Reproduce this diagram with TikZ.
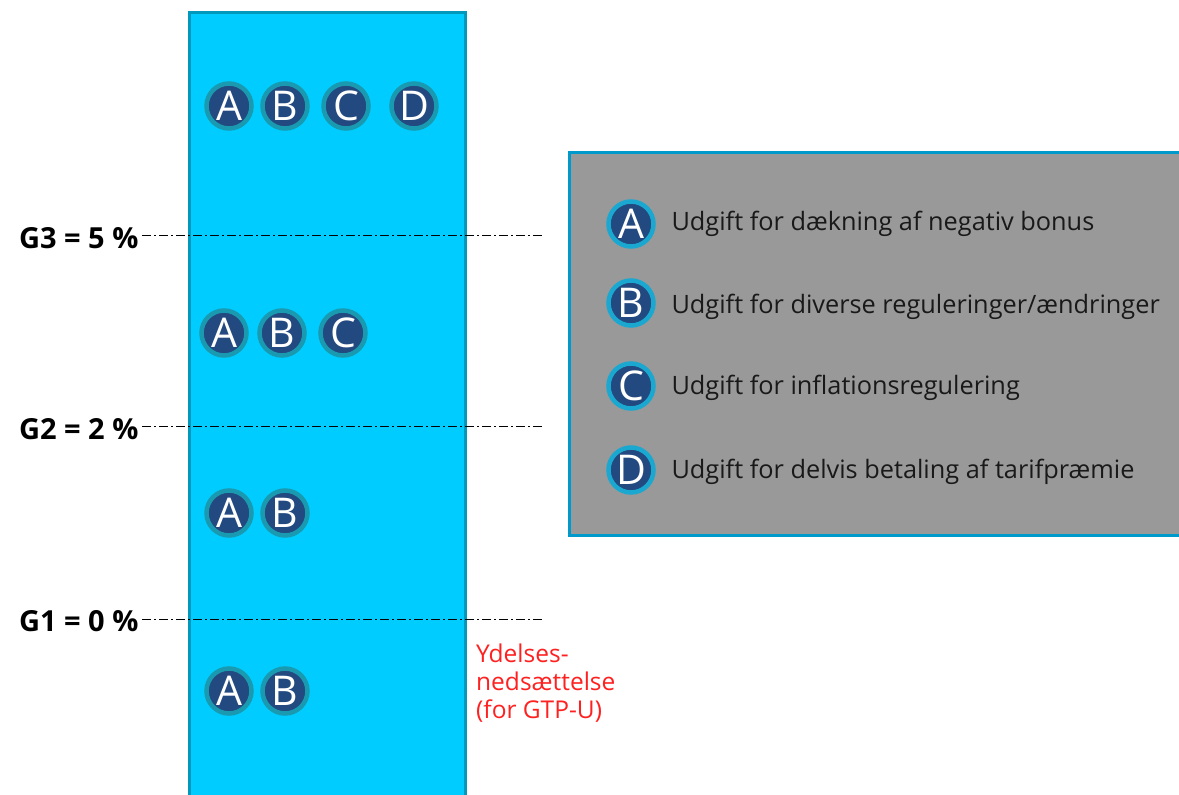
\documentclass[tikz,border=0pt]{standalone}
\usepackage{fontspec}
\setmainfont{Open Sans}
\definecolor{colfill}{HTML}{00CCFF}
\definecolor{colborder}{HTML}{0099BB}
\definecolor{boxborder}{HTML}{0099CC}
\definecolor{boxfill}{HTML}{999999}
\definecolor{navy}{HTML}{234A80}
\definecolor{ringcol}{HTML}{1A9AB0}
\definecolor{ringleg}{HTML}{1AA8D0}
\definecolor{redtxt}{HTML}{FF2020}
\tikzset{
  badge/.style={circle, fill=navy, draw=ringcol, line width=4.5pt, minimum size=45pt, inner sep=0pt,
    text=white, font=\fontsize{41}{41}\selectfont},
  legbadge/.style={badge, draw=ringleg},
  legtext/.style={anchor=west, font=\fontsize{25.3}{28}\selectfont, text=black!90},
  glabel/.style={anchor=east, font=\fontsize{29}{30}\selectfont\bfseries},
  gline/.style={line width=0.8pt, dash pattern=on 9pt off 3pt on 2pt off 3pt},
}
\begin{document}
\begin{tikzpicture}[x=1pt,y=-1pt]
\useasboundingbox (0,0) rectangle (1179,795);
\begin{scope}
\clip (0,0) rectangle (1179,795);
% column
\draw[fill=colfill, draw=colborder, line width=3pt] (189,12) rectangle (465,820);
% legend box
\draw[fill=boxfill, draw=boxborder, line width=3pt] (569,152) rectangle (1200,535);
\end{scope}
% levels
\node[glabel] (g3) at (142,238) {G3 = 5 \%};
\node[glabel] (g2) at (142,429) {G2 = 2 \%};
\node[glabel] (g1) at (142,621) {G1 = 0 \%};
\coordinate (e3) at (543,235);
\coordinate (e2) at (543,426);
\coordinate (e1) at (543,619);
\draw[gline] (g3.east |- e3) -- (e3);
\draw[gline] (g2.east |- e2) -- (e2);
\draw[gline] (g1.east |- e1) -- (e1);
% badges in column
\node[badge] (r1a) at (229,106) {A};
\node[badge] (r1b) at (285,106) {B};
\node[badge] (r1c) at (346,106) {C};
\node[badge] (r1d) at (414,106) {D};
\node[badge] (r2a) at (224,333) {A};
\node[badge] (r2b) at (282,333) {B};
\node[badge] (r2c) at (343,333) {C};
\node[badge] (r3a) at (229,513) {A};
\node[badge] (r3b) at (285,513) {B};
\node[badge] (r4a) at (229,691) {A};
\node[badge] (r4b) at (285,691) {B};
% legend
\node[legbadge] (la) at (631,224) {A};
\node[legbadge] (lb) at (631,303) {B};
\node[legbadge] (lc) at (631,386) {C};
\node[legbadge] (ld) at (631,470) {D};
\node[legtext] (ta) at (668,224) {Udgift for dækning af negativ bonus};
\node[legtext] (tb) at (668,307) {Udgift for diverse reguleringer/ændringer};
\node[legtext] (tc) at (668,388) {Udgift for inflationsregulering};
\node[legtext] (td) at (668,472) {Udgift for delvis betaling af tarifpræmie};
% red note
\node[anchor=north west, align=left, text=redtxt, inner sep=0pt, font=\fontsize{24.5}{28}\selectfont] (note) at (476,644) {Ydelses-\\nedsættelse\\(for GTP-U)};
\end{tikzpicture}
\end{document}
